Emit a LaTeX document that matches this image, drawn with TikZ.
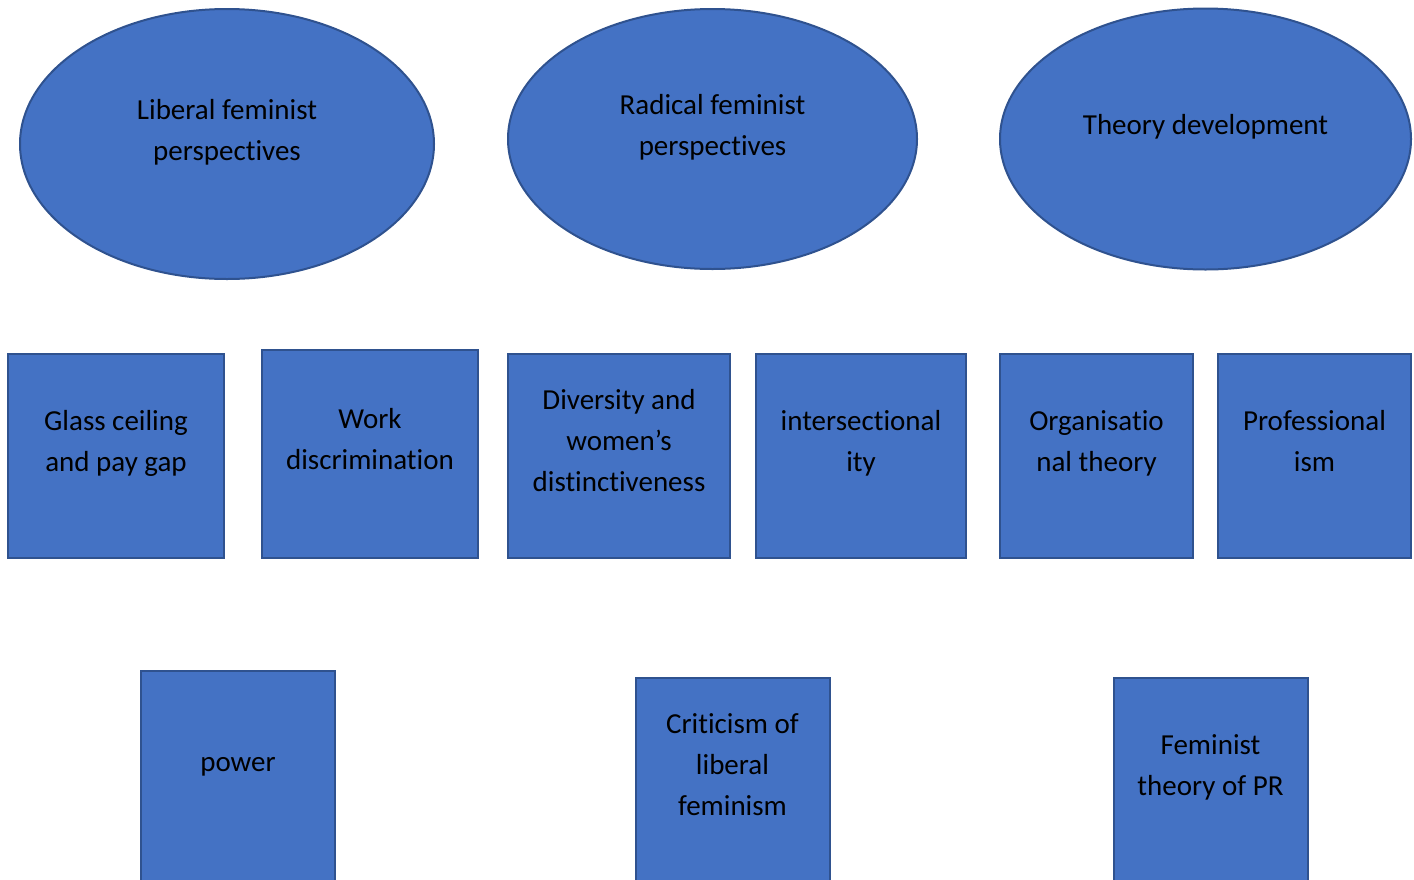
\documentclass[tikz,border=0pt]{standalone}
\usepackage{fontspec}
\setmainfont{Carlito}[RawFeature={-liga;-dlig;-clig}]
\usetikzlibrary{shapes.geometric}
\definecolor{boxfill}{HTML}{4472C4}
\definecolor{boxline}{HTML}{2F528F}
\tikzset{
  shapebase/.style={draw=boxline, fill=boxfill, line width=2pt, inner sep=0pt},
  oval/.style={shapebase, ellipse},
  rectbox/.style={shapebase, rectangle},
  txt/.style={align=center, text=black, inner sep=0pt, font=\fontsize{29}{41}\selectfont}
}
\begin{document}
\begin{tikzpicture}[x=1pt, y=-1pt]
\useasboundingbox (0,0) rectangle (1414,879);
\clip (0,0) rectangle (1414,879);
% ellipses
\node[oval, minimum width=414pt, minimum height=270pt] (e1) at (227,144) {};
\node[oval, minimum width=409pt, minimum height=260pt] (e2) at (712.5,139) {};
\node[oval, minimum width=411pt, minimum height=261pt] (e3) at (1205.5,139) {};
\node[txt] (e1t) at (227,132) {Liberal feminist\\perspectives};
\node[txt] (e2t) at (712.5,127) {Radical feminist\\perspectives};
\node[txt] (e3t) at (1205.5,127) {Theory development};
% row 2
\node[rectbox, minimum width=216pt, minimum height=204pt] (r1) at (116,456) {};
\node[rectbox, minimum width=216pt, minimum height=208pt] (r2) at (370,454) {};
\node[rectbox, minimum width=222pt, minimum height=204pt] (r3) at (619,456) {};
\node[rectbox, minimum width=210pt, minimum height=204pt] (r4) at (861,456) {};
\node[rectbox, minimum width=193pt, minimum height=204pt] (r5) at (1096.5,456) {};
\node[rectbox, minimum width=193pt, minimum height=204pt] (r6) at (1314.5,456) {};
\node[txt] (r1t) at (116,443) {Glass ceiling\\and pay gap};
\node[txt] (r2t) at (370,439) {Work\\discrimination};
\node[txt] (r3t) at (619,441) {Diversity and\\women’s\\distinctiveness};
\node[txt] (r4t) at (861,443) {intersectional\\ity};
\node[txt] (r5t) at (1096.5,443) {Organisatio\\nal theory};
\node[txt] (r6t) at (1314.5,441) {Professional\\ism};
% row 3
\node[rectbox, minimum width=194pt, minimum height=260pt] (r7) at (238,801) {};
\node[rectbox, minimum width=194pt, minimum height=260pt] (r8) at (732.5,808) {};
\node[rectbox, minimum width=194pt, minimum height=260pt] (r9) at (1210.5,808) {};
\node[txt] (r7t) at (238,767) {power};
\node[txt] (r8t) at (732.5,765) {Criticism of\\liberal\\feminism};
\node[txt] (r9t) at (1210.5,767) {Feminist\\theory of PR};
\end{tikzpicture}
\end{document}
